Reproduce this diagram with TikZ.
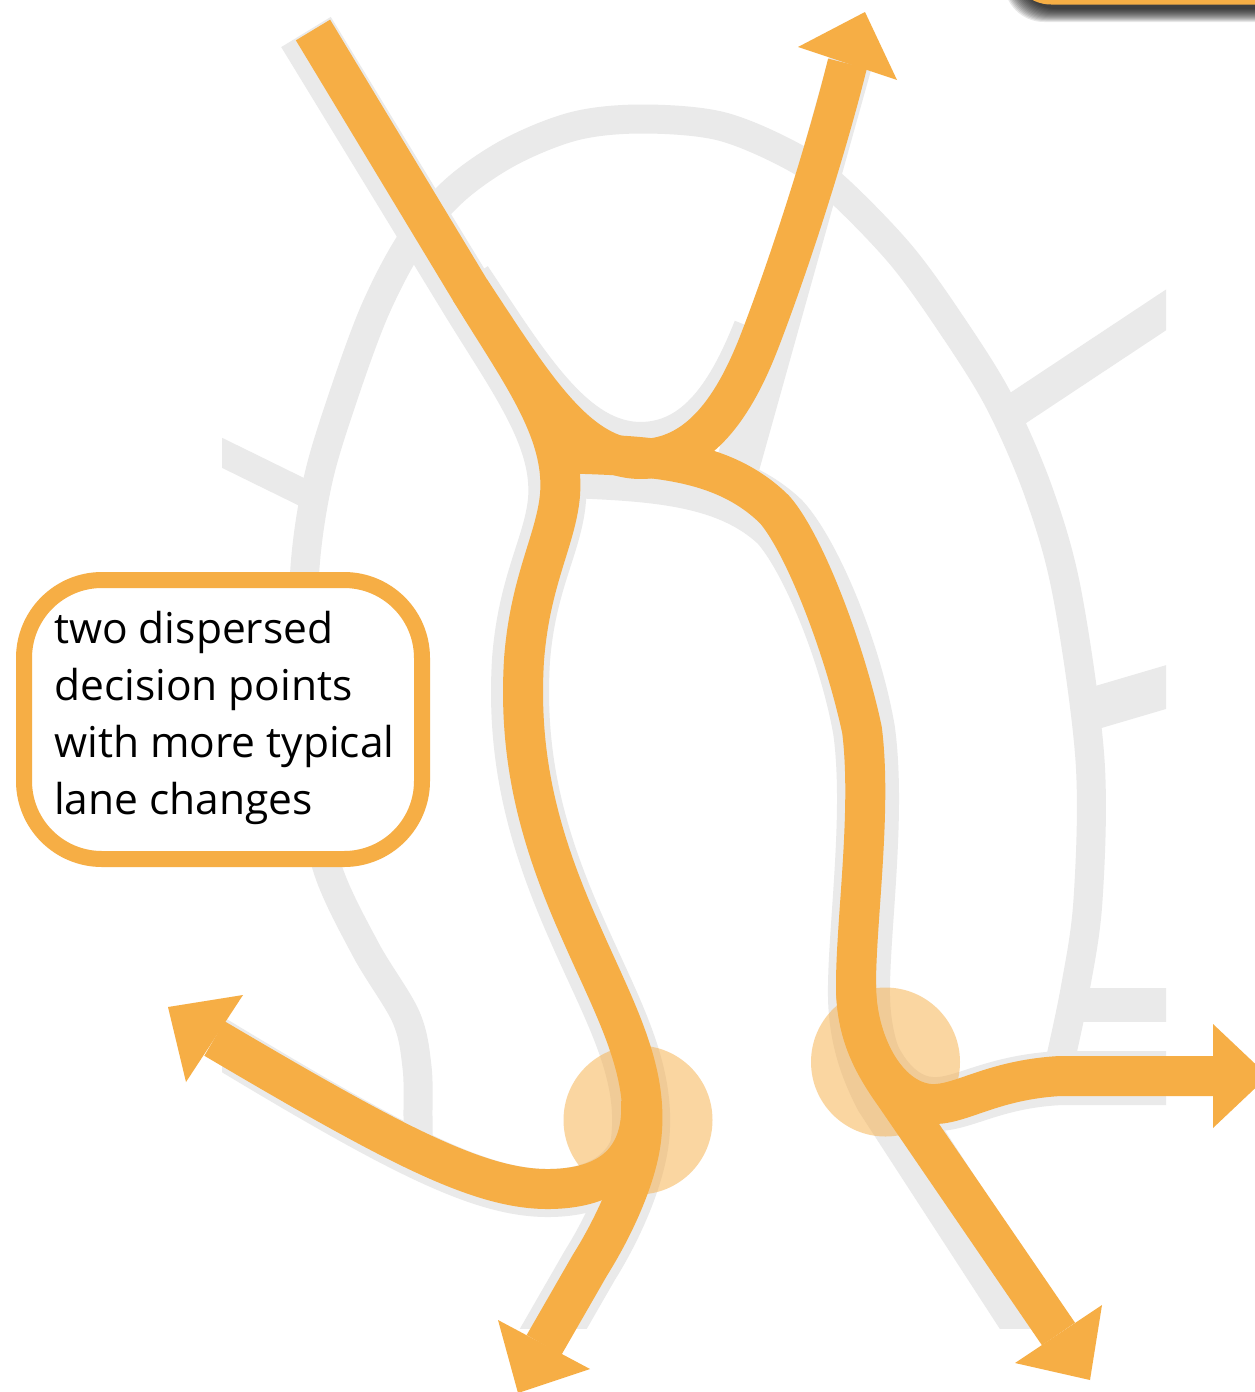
\documentclass[tikz,border=0pt]{standalone}
\usepackage{fontspec}
\setmainfont{Open Sans}
\definecolor{orng}{HTML}{F6AE45}
\definecolor{road}{HTML}{EAEAEA}
\begin{document}
\begin{tikzpicture}[x=1pt,y=-1pt,
  roadg/.style={draw=road, line cap=butt, line join=round},
  route/.style={draw=orng, line width=40pt, line cap=butt, line join=round},
  head/.style={fill=orng},
  spot/.style={fill=orng, fill opacity=0.5},
  sm/.style={smooth, tension=0.55}]
\useasboundingbox (0,0) rectangle (1255,1392);
\clip (0,0) rectangle (1255,1392);
\fill[white] (0,0) rectangle (1255,1392);

% ---------- grey road network ----------
\begin{scope}
\clip (222,15) rectangle (1166,1328);
% outer ring
\draw[roadg, line width=29pt] plot[sm] coordinates {(418,1170) (418,1117) (417,1067) (406,1017) (366,950) (328,870) (310,780) (303,680) (305,567) (318,480) (342,400) (375,310) (412,240) (455,190) (510,152) (575,126) (642,119) (720,126) (790,155) (835,187) (901,255) (955,330) (1000,403) (1039,493) (1067,593) (1090,760) (1088,900) (1075,990) (1058,1070)};
% stubs
\draw[roadg, line width=27pt] (200,442) -- (308,495);
\draw[roadg, line width=34pt] (1015,410) -- (1190,294);
\draw[roadg, line width=42pt] (1095,708) -- (1190,680);
\draw[roadg, line width=34pt] (1075,1005) -- (1190,1005);
% roads under the routes
\draw[roadg, line width=58pt] (306,32) -- (467,296) .. controls (517,378) and (562,436) .. (557,500)
   .. controls (553,545) and (527,582) .. (521,660) .. controls (515,760) and (537,840) .. (577,930)
   .. controls (612,1010) and (648,1070) .. (640,1140) .. controls (635,1180) and (612,1230) .. (590,1265) -- (544,1345);
\draw[roadg, line width=50pt] (467,280) .. controls (527,370) and (572,446) .. (640,447)
   .. controls (700,447) and (733,393) .. (758,330);
\draw[roadg, line width=44pt] (858,35) -- (735,475);
\draw[roadg, line width=62pt] (545,466) .. controls (640,470) and (725,470) .. (780,522)
   .. controls (810,555) and (850,650) .. (864,730) .. controls (875,810) and (860,920) .. (859,985)
   .. controls (858,1030) and (868,1062) .. (885,1095) -- (1044,1340);
\draw[roadg, line width=48pt] (641,1100) .. controls (644,1152) and (620,1192) .. (550,1193)
   .. controls (480,1194) and (395,1149) .. (205,1034);
\draw[roadg, line width=54pt] (857,985) .. controls (857,1040) and (886,1102) .. (932,1104)
   .. controls (962,1106) and (992,1081) .. (1062,1078) -- (1200,1078);
\end{scope}

% ---------- orange routes ----------
\coordinate (entry) at (313,30);
\coordinate (tipTR) at (865,12);
\coordinate (tipB) at (518,1393);
\coordinate (tipBR) at (1090,1380);
\coordinate (tipR) at (1268,1076);
\coordinate (tipL) at (168,1007);

% top-left entry straight down the left road to the bottom exit
\draw[route] (entry) -- (470,290) .. controls (520,372) and (565,430) .. (560,495)
   .. controls (556,540) and (530,580) .. (524,660) .. controls (518,760) and (540,840) .. (580,930)
   .. controls (615,1010) and (650,1070) .. (641,1140) .. controls (636,1180) and (612,1230) .. (590,1265)
   -- (544,1345);
% U-turn from the entry to the top-right exit
\draw[route] (470,290) .. controls (530,380) and (575,458) .. (640,459)
   .. controls (700,459) and (735,405) .. (760,340) .. controls (790,262) and (826,150) .. (847.5,63.5);
% right road from the junction to the bottom-right exit
\draw[route] (556,453) .. controls (640,456) and (720,455) .. (775,510)
   .. controls (805,545) and (845,650) .. (862,730) .. controls (872,810) and (856,920) .. (856,985)
   .. controls (856,1030) and (870,1060) .. (895,1095) -- (1058.5,1334);
% branch to the left exit
\draw[route] (641,1100) .. controls (644,1150) and (620,1188) .. (550,1189)
   .. controls (480,1190) and (395,1145) .. (214.5,1038.5);
% branch to the right exit
\draw[route] (856,985) .. controls (856,1040) and (885,1100) .. (930,1104)
   .. controls (960,1106) and (990,1080) .. (1060,1076) -- (1214,1076);

% arrow heads
\fill[head] (tipTR) -- (798,47) -- (897,80) -- cycle;
\fill[head] (tipB) -- (498,1320) -- (590,1369) -- cycle;
\fill[head] (tipBR) -- (1102,1305) -- (1015,1363) -- cycle;
\fill[head] (tipR) -- (1213,1024) -- (1213,1128) -- cycle;
\fill[head] (tipL) -- (243,995) -- (186,1082) -- cycle;

% decision points
\fill[spot] (638,1120) circle[radius=74.5];
\fill[spot] (885.5,1062) circle[radius=74.5];

% ---------- callout ----------
\node[draw=orng, line width=16pt, fill=white, rounded corners=78pt,
      minimum width=398pt, minimum height=279pt, inner sep=0pt] (note) at (223,719.5) {};
\node[anchor=base west, inner sep=0pt, font=\fontsize{42.5}{57}\selectfont] (notetext) at (54,643)
  {\parbox[t]{380pt}{\raggedright two dispersed\\decision points\\with more typical\\lane changes}};

% ---------- box fragment at the top right ----------
\foreach \r in {1,...,14} {
  \fill[black, opacity=0.09, rounded corners=40pt] ({1018-\r},-100) rectangle (1300,{8+\r});
}
\fill[orng, rounded corners=40pt] (1011,-100) rectangle (1300,4.5);
\end{tikzpicture}
\end{document}
